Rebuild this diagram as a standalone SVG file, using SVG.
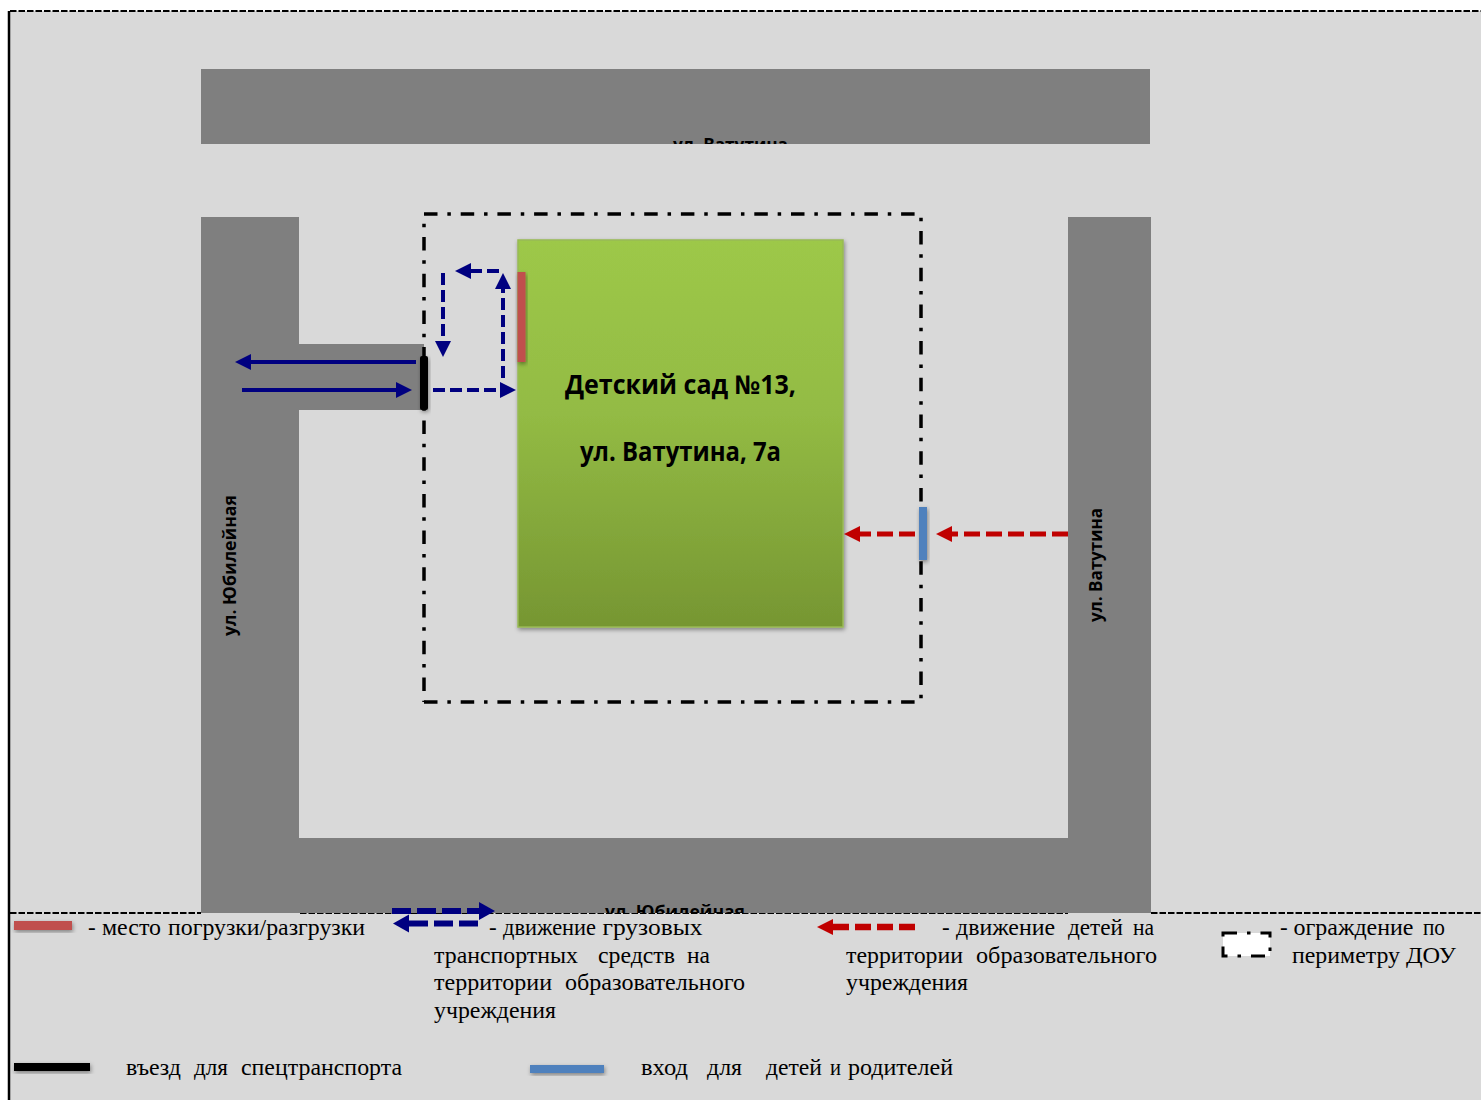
<svg xmlns="http://www.w3.org/2000/svg" width="1481" height="1100" viewBox="0 0 1481 1100">
<style>
.road{fill:#7f7f7f}
.lb{font-family:"Open Sans","Noto Sans","DejaVu Sans",sans-serif;font-weight:700;fill:#000}
.road-lb{font-size:18px}
.main{font-size:26px}
.t{font-family:"Liberation Serif","Times New Roman",serif;font-size:23px;fill:#000}
.fence{fill:none;stroke:#000;stroke-width:3.5;stroke-dasharray:13.5 9.85 3.5 9.85}
.frame{stroke:#000;stroke-width:2.2;stroke-dasharray:6.5 2;fill:none}
.nv{stroke:#000080;stroke-width:4;fill:none}
.nd{stroke-dasharray:12 5}
.nl{stroke:#000080;stroke-width:6;fill:none;stroke-dasharray:19 6}
.rd{stroke:#c00000;stroke-width:5;fill:none;stroke-dasharray:16 6}
</style>
<defs>
<linearGradient id="g" x1="0" y1="0" x2="0" y2="1"><stop offset="0" stop-color="#9dc848"/><stop offset="0.45" stop-color="#93bb44"/><stop offset="1" stop-color="#769632"/></linearGradient>
<filter id="sh" x="-30%" y="-30%" width="160%" height="160%"><feDropShadow dx="1" dy="2" stdDeviation="2" flood-color="#000" flood-opacity="0.4"/></filter>
<marker id="hn" markerUnits="userSpaceOnUse" markerWidth="17" markerHeight="16" refX="0" refY="8" orient="auto"><path d="M0 0L16 8L0 16Z" fill="#000080"/></marker>
<marker id="hl" markerUnits="userSpaceOnUse" markerWidth="17" markerHeight="20" refX="0" refY="10" orient="auto"><path d="M0 1L16 10L0 19Z" fill="#000080"/></marker>
<marker id="hr" markerUnits="userSpaceOnUse" markerWidth="17" markerHeight="16" refX="0" refY="8" orient="auto"><path d="M0 0L16 8L0 16Z" fill="#c00000"/></marker>
<clipPath id="c1"><rect x="201" y="69" width="950" height="75"/></clipPath>
<clipPath id="c2"><rect x="201" y="838" width="950" height="75"/></clipPath>
</defs>
<rect id="background" x="9" y="11" width="1472" height="1089" fill="#d9d9d9"/>
<path class="frame" d="M10 11H1481"/>
<path class="frame" d="M300 913H1068M1151 913H1481M10 913H201"/>
<path d="M9 11V1100" stroke="#000" stroke-width="2.5" fill="none"/>

<g id="road-top"><rect class="road" x="201" y="69" width="949" height="75"/>
<text class="lb road-lb" x="673" y="151" textLength="115" lengthAdjust="spacingAndGlyphs" clip-path="url(#c1)">ул. Ватутина</text></g>
<g id="road-left"><path class="road" d="M201 217H299V344H424V410H299V913H201Z"/>
<text class="lb road-lb" transform="translate(236 636) rotate(-90)" textLength="141" lengthAdjust="spacingAndGlyphs">ул. Юбилейная</text></g>
<g id="road-right"><rect class="road" x="1068" y="217" width="83" height="696"/>
<text class="lb road-lb" transform="translate(1102 622) rotate(-90)" textLength="114" lengthAdjust="spacingAndGlyphs">ул. Ватутина</text></g>
<g id="road-bottom"><rect class="road" x="201" y="838" width="950" height="75"/>
<text class="lb road-lb" x="605" y="918" textLength="140" lengthAdjust="spacingAndGlyphs" clip-path="url(#c2)">ул. Юбилейная</text></g>

<g id="fence">
<path class="fence" d="M424 214H921"/>
<path class="fence" stroke-dashoffset="-17" d="M921 214V702"/>
<path class="fence" d="M424 702H921"/>
<path class="fence" stroke-dashoffset="-23" d="M424 214V702"/>
</g>

<g id="building"><rect x="518" y="240" width="325" height="387" fill="url(#g)" stroke="#98b955" stroke-width="1.5" filter="url(#sh)"/>
<text class="lb main" x="565" y="394" textLength="231" lengthAdjust="spacingAndGlyphs">Детский сад №13,</text>
<text class="lb main" x="580" y="461" textLength="201" lengthAdjust="spacingAndGlyphs">ул. Ватутина, 7а</text></g>

<g id="loading-zone"><rect x="517.500" y="272" width="8" height="90" fill="#c0504d" filter="url(#sh)"/></g>
<g id="vehicle-gate"><rect x="420" y="356" width="8" height="54" rx="2" fill="#000" filter="url(#sh)"/></g>
<g id="pedestrian-gate"><rect x="919" y="507" width="8" height="53" fill="#4f81bd" filter="url(#sh)"/></g>

<g id="connectors">
<path class="nv" d="M416 362H251" marker-end="url(#hn)"/>
<path class="nv" d="M242 390H396" marker-end="url(#hn)"/>
<path class="nv nd" d="M433 390H500" marker-end="url(#hn)"/>
<path class="nv nd" d="M503 378V289" marker-end="url(#hn)"/>
<path class="nv nd" d="M499 271H471" marker-end="url(#hn)"/>
<path class="nv nd" d="M443 273V341" marker-end="url(#hn)"/>
<path class="rd" d="M915 534H860" marker-end="url(#hr)"/>
<path class="rd" d="M1068 534H952" marker-end="url(#hr)"/>
</g>

<g id="legend-loading"><rect x="14" y="921" width="58" height="9" fill="#c0504d" filter="url(#sh)"/>
<text class="t" x="88" y="935">-</text><text class="t" x="102" y="935" textLength="59" lengthAdjust="spacingAndGlyphs">место</text><text class="t" x="168" y="935" textLength="197" lengthAdjust="spacingAndGlyphs">погрузки/разгрузки</text></g>

<g id="legend-trucks">
<path class="nl" d="M392 911H479" marker-end="url(#hl)"/>
<path class="nl" d="M478 923.500H409" marker-end="url(#hl)"/>
<text class="t" x="489" y="935">-</text><text class="t" x="503" y="935" textLength="93" lengthAdjust="spacingAndGlyphs">движение</text><text class="t" x="602.500" y="935" textLength="100" lengthAdjust="spacingAndGlyphs">грузовых</text>
<text class="t" x="434" y="963" textLength="144" lengthAdjust="spacingAndGlyphs">транспортных</text><text class="t" x="598" y="963" textLength="77" lengthAdjust="spacingAndGlyphs">средств</text><text class="t" x="687" y="963" textLength="23" lengthAdjust="spacingAndGlyphs">на</text>
<text class="t" x="434" y="990" textLength="118" lengthAdjust="spacingAndGlyphs">территории</text><text class="t" x="565" y="990" textLength="180" lengthAdjust="spacingAndGlyphs">образовательного</text>
<text class="t" x="434" y="1018" textLength="122" lengthAdjust="spacingAndGlyphs">учреждения</text></g>

<g id="legend-children">
<path class="rd" style="stroke-width:6.500px" d="M915 927H833" marker-end="url(#hr)"/>
<text class="t" x="942" y="935">-</text><text class="t" x="956" y="935" textLength="99" lengthAdjust="spacingAndGlyphs">движение</text><text class="t" x="1068" y="935" textLength="55" lengthAdjust="spacingAndGlyphs">детей</text><text class="t" x="1133" y="935" textLength="21" lengthAdjust="spacingAndGlyphs">на</text>
<text class="t" x="846" y="963" textLength="117" lengthAdjust="spacingAndGlyphs">территории</text><text class="t" x="976" y="963" textLength="181" lengthAdjust="spacingAndGlyphs">образовательного</text>
<text class="t" x="846" y="990" textLength="122" lengthAdjust="spacingAndGlyphs">учреждения</text></g>

<g id="legend-fence"><rect x="1223" y="933" width="47" height="23" fill="#fff" stroke="#000" stroke-width="3" stroke-dasharray="14 10 3.500 10"/>
<text class="t" x="1280" y="935">-</text><text class="t" x="1293.500" y="935" textLength="120" lengthAdjust="spacingAndGlyphs">ограждение</text><text class="t" x="1423" y="935" textLength="22" lengthAdjust="spacingAndGlyphs">по</text>
<text class="t" x="1292" y="963" textLength="108" lengthAdjust="spacingAndGlyphs">периметру</text><text class="t" x="1406" y="963" textLength="50" lengthAdjust="spacingAndGlyphs">ДОУ</text></g>

<g id="legend-vehicle-gate"><rect x="14" y="1063" width="76" height="8" fill="#000" filter="url(#sh)"/>
<text class="t" x="126" y="1075" textLength="55" lengthAdjust="spacingAndGlyphs">въезд</text><text class="t" x="194" y="1075" textLength="34" lengthAdjust="spacingAndGlyphs">для</text><text class="t" x="241" y="1075" textLength="161" lengthAdjust="spacingAndGlyphs">спецтранспорта</text></g>

<g id="legend-pedestrian-gate"><rect x="530" y="1065" width="74" height="8" fill="#4f81bd" filter="url(#sh)"/>
<text class="t" x="641" y="1075" textLength="47" lengthAdjust="spacingAndGlyphs">вход</text><text class="t" x="707" y="1075" textLength="35" lengthAdjust="spacingAndGlyphs">для</text><text class="t" x="766" y="1075" textLength="56" lengthAdjust="spacingAndGlyphs">детей</text><text class="t" x="830" y="1075" textLength="11" lengthAdjust="spacingAndGlyphs">и</text><text class="t" x="848" y="1075" textLength="105" lengthAdjust="spacingAndGlyphs">родителей</text></g>
</svg>
